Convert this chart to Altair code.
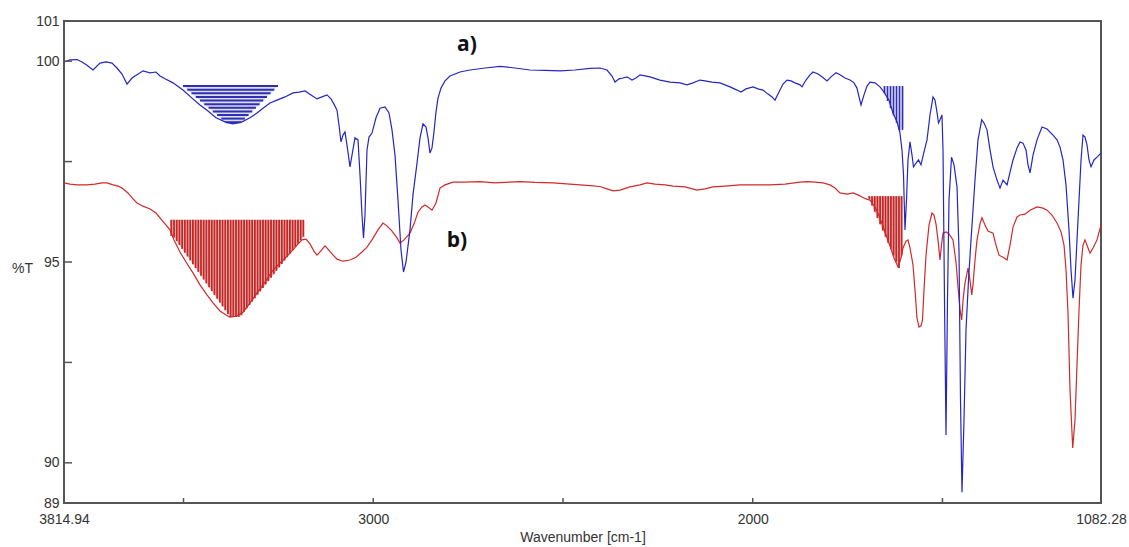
import altair as alt
import numpy as np
import pandas as pd

# ---- spectrum a) : wavenumber [cm-1] and %T ----
a_wn = [3814.9, 3799.1, 3780.7, 3767.5, 3754.3, 3738.5, 3720.1, 3704.3, 3688.5, 3675.3,
        3662.1, 3648.9, 3635.8, 3622.6, 3606.8, 3588.3, 3572.5, 3562.0, 3548.8, 3527.7,
        3501.4, 3477.6, 3456.6, 3435.5, 3414.4, 3390.7, 3369.6, 3345.9, 3324.8, 3306.4,
        3290.5, 3272.1, 3253.7, 3232.6, 3211.5, 3195.7, 3179.9, 3164.1, 3148.2, 3135.1,
        3121.9, 3111.4, 3103.5, 3095.5, 3090.3, 3085.0, 3079.7, 3074.5, 3069.2, 3061.3,
        3056.0, 3048.1, 3040.2, 3034.9, 3029.7, 3025.7, 3021.8, 3016.5, 3011.2, 3003.3,
        2992.8, 2982.2, 2969.1, 2958.5, 2950.6, 2942.7, 2934.8, 2926.9, 2920.3, 2913.7,
        2903.2, 2895.3, 2884.7, 2876.8, 2868.9, 2861.0, 2855.7, 2850.5, 2845.2, 2839.9,
        2834.7, 2829.4, 2821.5, 2810.9, 2797.8, 2771.4, 2745.1, 2705.5, 2666.0, 2626.5,
        2587.0, 2547.4, 2507.9, 2468.4, 2428.9, 2402.5, 2384.1, 2370.9, 2363.0, 2352.4,
        2341.9, 2331.3, 2318.2, 2307.6, 2297.1, 2270.7, 2244.4, 2218.0, 2191.7, 2173.2,
        2157.4, 2139.0, 2125.8, 2107.4, 2086.3, 2059.9, 2041.5, 2030.9, 2017.8, 1999.3,
        1986.1, 1973.0, 1959.8, 1949.2, 1941.3, 1930.8, 1920.3, 1909.7, 1899.2, 1888.6,
        1875.5, 1870.2, 1859.7, 1849.1, 1841.2, 1828.0, 1817.5, 1804.3, 1793.8, 1780.6,
        1770.1, 1756.9, 1743.7, 1733.2, 1725.3, 1720.0, 1714.7, 1706.8, 1698.9, 1691.0,
        1677.8, 1664.7, 1654.1, 1640.9, 1630.4, 1619.9, 1612.0, 1606.7, 1602.7, 1598.8,
        1594.8, 1590.9, 1585.6, 1580.3, 1576.4, 1569.8, 1563.2, 1556.6, 1548.7, 1540.8,
        1532.9, 1525.0, 1519.7, 1514.5, 1510.5, 1506.5, 1501.3, 1498.6, 1494.7, 1490.7,
        1486.8, 1482.8, 1476.2, 1469.6, 1461.7, 1456.5, 1452.5, 1448.6, 1443.3, 1438.0,
        1431.4, 1424.8, 1414.3, 1406.4, 1396.6, 1390.6, 1382.7, 1374.7, 1366.8, 1356.3,
        1348.4, 1340.5, 1329.9, 1322.0, 1314.1, 1303.6, 1295.7, 1287.8, 1279.9, 1274.6,
        1269.3, 1261.4, 1250.9, 1237.7, 1224.5, 1208.7, 1198.2, 1190.3, 1182.4, 1174.5,
        1166.6, 1161.3, 1156.0, 1150.8, 1145.5, 1140.2, 1134.9, 1129.7, 1124.4, 1119.1,
        1113.9, 1108.6, 1100.7, 1092.8, 1082.3]
a_t = [99.98, 100.03, 100.04, 99.98, 99.90, 99.78, 99.95, 99.98, 99.95, 99.83,
       99.68, 99.43, 99.58, 99.66, 99.76, 99.71, 99.73, 99.63, 99.56, 99.46,
       99.28, 99.08, 98.91, 98.76, 98.59, 98.49, 98.44, 98.49, 98.59, 98.71,
       98.83, 98.96, 99.03, 99.11, 99.21, 99.23, 99.26, 99.16, 99.06, 99.11,
       99.16, 99.06, 98.93, 98.78, 98.41, 97.99, 98.16, 98.24, 97.91, 97.37,
       97.66, 98.09, 98.04, 97.17, 96.17, 95.60, 96.17, 97.79, 98.11, 98.21,
       98.59, 98.83, 98.86, 98.71, 98.29, 97.66, 96.54, 95.30, 94.75, 95.00,
       95.80, 96.67, 97.46, 98.09, 98.44, 98.36, 98.09, 97.71, 97.84, 98.24,
       98.73, 99.08, 99.33, 99.51, 99.63, 99.73, 99.78, 99.83, 99.87, 99.83,
       99.78, 99.77, 99.76, 99.78, 99.82, 99.83, 99.78, 99.63, 99.48, 99.56,
       99.58, 99.61, 99.53, 99.58, 99.66, 99.61, 99.53, 99.48, 99.46, 99.41,
       99.46, 99.53, 99.51, 99.48, 99.46, 99.36, 99.28, 99.23, 99.31, 99.36,
       99.31, 99.28, 99.18, 99.11, 99.03, 99.23, 99.43, 99.53, 99.51, 99.46,
       99.41, 99.36, 99.53, 99.66, 99.73, 99.68, 99.61, 99.51, 99.61, 99.71,
       99.66, 99.58, 99.53, 99.46, 99.33, 99.11, 98.91, 99.16, 99.38, 99.48,
       99.46, 99.36, 99.23, 99.03, 98.71, 98.49, 98.21, 97.79, 97.17, 95.80,
       96.54, 97.54, 97.99, 97.66, 97.37, 97.46, 97.54, 97.42, 97.74, 98.04,
       98.66, 99.11, 99.03, 98.73, 98.46, 98.54, 98.66, 97.79, 94.05, 90.69,
       94.05, 96.54, 97.61, 97.42, 96.87, 95.30, 91.56, 89.27, 91.07, 93.31,
       94.55, 95.55, 97.04, 98.04, 98.54, 98.46, 98.29, 97.79, 97.37, 97.04,
       96.84, 97.04, 96.92, 97.24, 97.54, 97.84, 97.99, 97.96, 97.79, 97.42,
       97.22, 97.66, 98.04, 98.36, 98.31, 98.16, 98.04, 97.86, 97.54, 96.92,
       95.80, 94.80, 94.10, 94.55, 95.55, 96.54, 97.54, 98.16, 98.11, 97.91,
       97.54, 97.37, 97.54, 97.61, 97.71]

# ---- spectrum b) ----
b_wn = [3814.9, 3799.1, 3780.7, 3754.3, 3733.2, 3714.8, 3701.6, 3685.8, 3672.6, 3662.1,
        3646.3, 3633.1, 3622.6, 3606.8, 3588.3, 3572.5, 3562.0, 3548.8, 3535.6, 3525.1,
        3509.3, 3493.5, 3475.0, 3456.6, 3438.1, 3422.3, 3403.9, 3388.0, 3377.5, 3361.7,
        3343.2, 3324.8, 3306.4, 3285.3, 3264.2, 3243.1, 3219.4, 3201.0, 3187.8, 3177.2,
        3166.7, 3156.2, 3148.2, 3140.3, 3127.2, 3119.3, 3108.7, 3095.5, 3079.7, 3061.3,
        3045.5, 3029.7, 3016.5, 3003.3, 2987.5, 2974.3, 2963.8, 2950.6, 2937.4, 2929.5,
        2919.0, 2903.2, 2892.6, 2882.1, 2871.6, 2863.7, 2855.7, 2845.2, 2834.7, 2824.1,
        2810.9, 2789.9, 2758.2, 2718.7, 2679.2, 2639.7, 2613.3, 2573.8, 2526.4, 2481.6,
        2455.2, 2428.9, 2402.5, 2384.1, 2368.2, 2349.8, 2323.4, 2297.1, 2278.6, 2257.6,
        2231.2, 2210.1, 2178.5, 2146.9, 2125.8, 2104.7, 2073.1, 2033.6, 1994.0, 1954.5,
        1915.0, 1875.5, 1857.0, 1835.9, 1814.9, 1796.4, 1783.2, 1770.1, 1751.6, 1735.8,
        1722.6, 1712.1, 1701.5, 1691.0, 1677.8, 1664.7, 1651.5, 1638.3, 1627.8, 1617.2,
        1609.3, 1604.0, 1596.1, 1590.9, 1585.6, 1577.7, 1572.4, 1567.2, 1561.9, 1556.6,
        1552.7, 1548.7, 1543.4, 1535.5, 1527.6, 1522.4, 1517.1, 1511.8, 1506.5, 1502.6,
        1498.6, 1490.7, 1482.8, 1472.3, 1464.4, 1459.1, 1453.8, 1449.4, 1445.9, 1440.6,
        1432.7, 1427.5, 1423.0, 1419.6, 1414.3, 1409.0, 1401.1, 1395.9, 1388.0, 1380.1,
        1366.8, 1359.0, 1351.0, 1340.5, 1329.9, 1322.0, 1314.1, 1303.6, 1295.7, 1282.5,
        1269.3, 1250.9, 1235.1, 1224.5, 1211.4, 1198.2, 1187.6, 1179.7, 1174.5, 1169.2,
        1163.9, 1156.8, 1150.8, 1145.5, 1140.2, 1134.9, 1129.7, 1124.4, 1116.5, 1111.2,
        1103.3, 1092.8, 1082.3]
b_t = [96.97, 96.94, 96.92, 96.92, 96.94, 96.97, 96.97, 96.92, 96.89, 96.84,
       96.72, 96.57, 96.47, 96.39, 96.32, 96.22, 96.10, 95.95, 95.80, 95.55,
       95.25, 95.00, 94.73, 94.43, 94.18, 93.98, 93.78, 93.68, 93.63, 93.65,
       93.75, 93.98, 94.23, 94.50, 94.80, 95.00, 95.22, 95.42, 95.55, 95.57,
       95.45, 95.27, 95.17, 95.25, 95.40, 95.32, 95.20, 95.07, 95.02, 95.05,
       95.12, 95.25, 95.37, 95.55, 95.80, 95.97, 95.90, 95.77, 95.60, 95.47,
       95.55, 95.72, 95.95, 96.24, 96.37, 96.42, 96.37, 96.29, 96.47, 96.84,
       96.92, 96.99, 96.99, 97.00, 96.97, 96.99, 97.00, 96.98, 96.97, 96.94,
       96.92, 96.90, 96.88, 96.82, 96.77, 96.79, 96.87, 96.92, 96.97, 96.94,
       96.92, 96.89, 96.87, 96.79, 96.82, 96.87, 96.89, 96.92, 96.92, 96.92,
       96.94, 96.99, 97.00, 96.99, 96.97, 96.92, 96.84, 96.72, 96.69, 96.72,
       96.67, 96.62, 96.57, 96.54, 96.37, 96.10, 95.75, 95.40, 95.10, 94.88,
       95.10, 95.35, 95.52, 95.55, 95.35, 94.93, 94.30, 93.61, 93.38, 93.41,
       93.56, 94.30, 95.17, 95.92, 96.22, 96.17, 95.95, 95.55, 95.05, 95.42,
       95.72, 95.75, 95.70, 95.55, 95.00, 94.38, 93.81, 93.56, 94.05, 94.48,
       94.85, 94.55, 94.18, 94.43, 95.05, 95.55, 95.95, 96.10, 95.92, 95.77,
       95.72, 95.42, 95.17, 95.12, 95.05, 95.42, 95.87, 96.12, 96.17, 96.19,
       96.29, 96.37, 96.34, 96.29, 96.17, 95.97, 95.75, 95.42, 94.80, 93.73,
       91.81, 90.37, 91.07, 92.44, 93.81, 94.93, 95.42, 95.55, 95.35, 95.22,
       95.35, 95.55, 95.92]

# ---- axes ----
x_domain = [1082.28, 3814.94]
y_domain = [89, 101]
x_label_values = [3814.94, 3000, 2000, 1082.28]
y_label_values = [89, 90, 95, 100, 101]
x_tick_values = [3500, 3000, 2500, 2000, 1500]
y_tick_values = [90, 92.5, 95, 97.5, 100]

# ---- integrated band regions ----
# a) O-H band: horizontal hatching between two %T levels
a_oh_top, a_oh_bottom = 99.38, 98.45
a_oh_high_wn = [3501.4, 3385.4]   # high-wavenumber edge at top, bottom
a_oh_low_wn = [3251.0, 3351.2]    # low-wavenumber edge at top, bottom
# a) C=O band: vertical hatching
a_co_top = 99.38
a_co_wn = [1656.7, 1610.0, 1601.4]
a_co_t = [99.28, 98.21, 98.35]
# b) O-H band: vertical hatching
b_oh_top = 96.05
b_oh_wn = [3535.6, 3527.7, 3377.5, 3351.2, 3182.5]
b_oh_t = [95.65, 95.65, 93.63, 93.63, 95.65]
# b) C=O band
b_co_top = 96.64
b_co_wn = [1696.3, 1614.6, 1606.7]
b_co_t = [96.64, 94.85, 95.20]

# ---- curve labels ----
label_text = ["a)", "b)"]
label_wn = [2753.0, 2779.3]
label_t = [100.40, 95.52]

BLUE = "#2626c2"
RED = "#d02a2a"
AXIS_GREY = "#555555"
TEXT_GREY = "#333333"
FONT = "Liberation Sans"

x_scale = alt.Scale(domain=x_domain, reverse=True, nice=False, zero=False)
y_scale = alt.Scale(domain=y_domain, nice=False, zero=False)

x_axis = alt.Axis(
    values=x_label_values,
    labelExpr="datum.value % 1 ? format(datum.value, '.2f') : format(datum.value, 'd')",
    title="Wavenumber [cm-1]",
    ticks=False, tickSize=0, domain=False, grid=False,
    labelFlush=False, labelPadding=9, labelFontSize=14, labelColor=TEXT_GREY,
    labelFont=FONT, titleFont=FONT, titleFontSize=14, titleFontWeight="normal",
    titleColor=TEXT_GREY, titlePadding=4,
)
y_axis = alt.Axis(
    values=y_label_values, format="d",
    title="%T",
    ticks=False, tickSize=0, domain=False, grid=False,
    labelFlush=False, labelPadding=5, labelFontSize=14, labelColor=TEXT_GREY,
    labelFont=FONT, titleFont=FONT, titleFontSize=14, titleFontWeight="normal",
    titleColor=TEXT_GREY, titleAngle=0, titleX=-42, titleY=247,
    titleAlign="center", titleBaseline="middle",
)


def X(field):
    return alt.X(f"{field}:Q", scale=x_scale, axis=x_axis)


def Y(field):
    return alt.Y(f"{field}:Q", scale=y_scale, axis=y_axis)


def vertical_hatch(edge_wn, edge_t, top, step):
    """Vertical stripes from a flat top down to a piecewise-linear lower edge."""
    hi, lo = max(edge_wn), min(edge_wn)
    xs = np.arange(hi - step / 2, lo, -step)
    order = np.argsort(edge_wn)
    bottoms = np.interp(xs, np.array(edge_wn)[order], np.array(edge_t)[order])
    return pd.DataFrame({"wn": xs, "lo": bottoms, "hi": top})


def horizontal_hatch(top, bottom, high_wn, low_wn, step):
    levels = np.arange(top, bottom - 1e-9, -step)
    frac = (top - levels) / (top - bottom)
    left = high_wn[0] + frac * (high_wn[1] - high_wn[0])
    right = low_wn[0] + frac * (low_wn[1] - low_wn[0])
    return pd.DataFrame({"t": levels, "left": left, "right": right})


df_a = pd.DataFrame({"wn": a_wn, "t": a_t})
df_b = pd.DataFrame({"wn": b_wn, "t": b_t})

# backgrounds of the hatched regions
a_oh_fill = pd.DataFrame({"t": [a_oh_top, a_oh_bottom],
                          "left": [a_oh_high_wn[0], a_oh_high_wn[1]],
                          "right": [a_oh_low_wn[0], a_oh_low_wn[1]]})
a_co_fill = pd.DataFrame({"wn": a_co_wn, "lo": a_co_t, "hi": a_co_top})
b_oh_fill = pd.DataFrame({"wn": b_oh_wn, "lo": b_oh_t, "hi": b_oh_top})
b_co_fill = pd.DataFrame({"wn": b_co_wn, "lo": b_co_t, "hi": b_co_top})

layers = []

layers.append(alt.Chart(a_oh_fill).mark_area(orient="horizontal", color="#dcdcf3").encode(
    y=Y("t"), x=X("left"), x2="right"))
for fill, col in [(a_co_fill, "#dcdcf3"), (b_oh_fill, "#f0c4c4"), (b_co_fill, "#f0c4c4")]:
    layers.append(alt.Chart(fill).mark_area(color=col).encode(x=X("wn"), y=Y("lo"), y2="hi"))

# stripes
layers.append(alt.Chart(horizontal_hatch(a_oh_top, a_oh_bottom, a_oh_high_wn, a_oh_low_wn, 0.09))
              .mark_rule(color="#2f2fb0", strokeWidth=2)
              .encode(y=Y("t"), x=X("left"), x2="right"))
layers.append(alt.Chart(vertical_hatch(a_co_wn, a_co_t, a_co_top, 7.9))
              .mark_rule(color="#2f2fb0", strokeWidth=1.5)
              .encode(x=X("wn"), y=Y("lo"), y2="hi"))
for edge_wn, edge_t, top in [(b_oh_wn, b_oh_t, b_oh_top), (b_co_wn, b_co_t, b_co_top)]:
    layers.append(alt.Chart(vertical_hatch(edge_wn, edge_t, top, 7.1))
                  .mark_rule(color="#c42626", strokeWidth=1.8)
                  .encode(x=X("wn"), y=Y("lo"), y2="hi"))

# spectra
layers.append(alt.Chart(df_b).mark_line(color=RED, strokeWidth=1.2).encode(x=X("wn"), y=Y("t")))
layers.append(alt.Chart(df_a).mark_line(color=BLUE, strokeWidth=1.2).encode(x=X("wn"), y=Y("t")))

# curve labels
layers.append(alt.Chart(pd.DataFrame({"wn": label_wn, "t": label_t, "s": label_text}))
              .mark_text(font="Open Sans", fontWeight="bold", fontSize=21, color="#111111",
                         align="center", baseline="middle")
              .encode(x=X("wn"), y=Y("t"), text="s:N"))

# inward tick marks
layers.append(alt.Chart(pd.DataFrame({"v": y_tick_values}))
              .mark_rule(color=AXIS_GREY, strokeWidth=1.5)
              .encode(y=Y("v"), x=alt.value(0), x2=alt.value(8)))
layers.append(alt.Chart(pd.DataFrame({"v": x_tick_values}))
              .mark_rule(color=AXIS_GREY, strokeWidth=1.5)
              .encode(x=X("v"), y=alt.value(482), y2=alt.value(477)))

chart = alt.layer(*layers).properties(
    width=1037,
    height=482,
    autosize=alt.AutoSizeParams(type="none"),
    padding={"left": 64, "top": 21, "right": 28, "bottom": 44},
    background="white",
).configure_view(stroke=AXIS_GREY, strokeWidth=2)

chart.save("out.html", embed_options={"renderer": "svg", "actions": False})
